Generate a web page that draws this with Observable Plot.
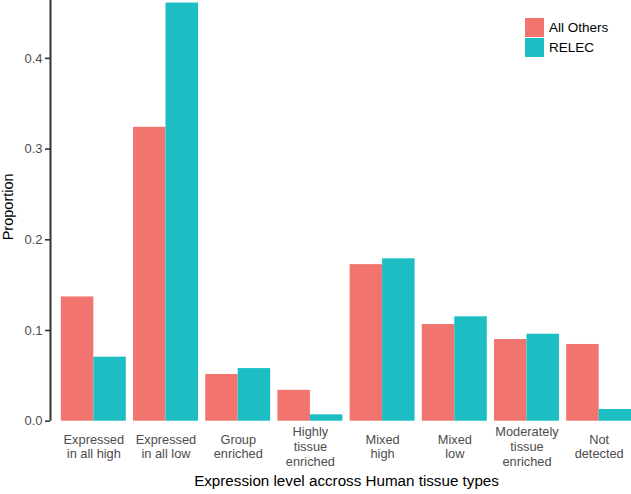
<!DOCTYPE html>
<html>
<head>
<meta charset="utf-8">
<script src="https://cdn.jsdelivr.net/npm/d3@7"></script>
<script src="https://cdn.jsdelivr.net/npm/@observablehq/plot@0.6"></script>
<style>
  html, body { margin: 0; padding: 0; background: #fff; overflow: hidden; width: 631px; height: 494px; }
  #wrap { position: relative; width: 631px; height: 494px; overflow: hidden; }
  #chart svg { max-width: none !important; display: block; }
  #legend { position: absolute; left: 525px; top: 17px; font-family: "Liberation Sans", Arial, sans-serif; font-size: 13.5px; color: #000; }
  #legend .item { display: flex; align-items: center; height: 20px; }
  #legend .sw { width: 19px; height: 19px; margin-right: 5px; }
</style>
</head>
<body>
<div id="wrap"><div id="chart"></div><div id="legend"></div></div>
<script>
const categories = [
  "Expressed\nin all high",
  "Expressed\nin all low",
  "Group\nenriched",
  "Highly\ntissue\nenriched",
  "Mixed\nhigh",
  "Mixed\nlow",
  "Moderately\ntissue\nenriched",
  "Not\ndetected"
];
const seriesNames = ["All Others", "RELEC"];
const allOthers = [0.137, 0.324, 0.0515, 0.034, 0.1726, 0.1066, 0.090, 0.0846];
const relec =     [0.0706, 0.461, 0.058, 0.007, 0.179, 0.1151, 0.0959, 0.0129];
const yTicks = [0, 0.1, 0.2, 0.3, 0.4];
const colors = ["#F1746F", "#1CBDC3"];
const xTitle = "Expression level accross Human tissue types";
const yTitle = "Proportion";

const barWidth = 0.9; // ggplot geom_bar width (fraction of category step)
const data = [];
categories.forEach((c, i) => {
  [allOthers, relec].forEach((vals, s) => {
    data.push({i, s, category: c, series: seriesNames[s], value: vals[i]});
  });
});

const font = '"Liberation Sans", Arial, Helvetica, sans-serif';

const plot = Plot.plot({
  width: 642,
  height: 494,
  marginLeft: 50,
  marginRight: 0,
  marginTop: 0,
  marginBottom: 73.3,
  style: {fontFamily: font, background: "#fff", overflow: "visible", maxWidth: "none"},
  x: {domain: [-0.6, categories.length - 1 + 0.6], axis: null},
  y: {domain: [0, 0.4638], axis: null},
  color: {domain: seriesNames, range: colors},
  marks: [
    Plot.rectY(data, {
      x1: d => d.i - barWidth / 2 + d.s * barWidth / 2,
      x2: d => d.i - barWidth / 2 + (d.s + 1) * barWidth / 2,
      y1: d => 0,
      y2: "value",
      fill: "series"
    }),
    Plot.axisX({
      ticks: d3.range(categories.length),
      tickFormat: i => categories[i],
      tickSize: 0,
      tickPadding: 0,
      lineAnchor: "middle",
      lineHeight: 1.15,
      dy: 25,
      fontSize: 12.8,
      fill: "#4D4D4D",
      label: null
    }),
    Plot.axisY({
      ticks: yTicks,
      tickFormat: d3.format(".1f"),
      tickSize: 5,
      tickPadding: 3,
      stroke: "#333",
      strokeWidth: 1.6,
      fill: "#4D4D4D",
      fontSize: 13,
      label: null
    }),
    Plot.ruleX([-0.6], {stroke: "#333", strokeWidth: 2}),
    Plot.text([xTitle], {frameAnchor: "bottom", dy: 65, fontSize: 15.2, fill: "#000"}),
    Plot.text([yTitle], {frameAnchor: "left", textAnchor: "middle", dx: -42, dy: -4, rotate: -90, fontSize: 14.5, fill: "#000"})
  ]
});
document.getElementById("chart").appendChild(plot);

const legend = document.getElementById("legend");
seriesNames.forEach((name, k) => {
  const item = document.createElement("div");
  item.className = "item";
  const sw = document.createElement("span");
  sw.className = "sw";
  sw.style.background = colors[k];
  const lab = document.createElement("span");
  lab.textContent = name;
  item.appendChild(sw);
  item.appendChild(lab);
  legend.appendChild(item);
});
</script>
</body>
</html>
